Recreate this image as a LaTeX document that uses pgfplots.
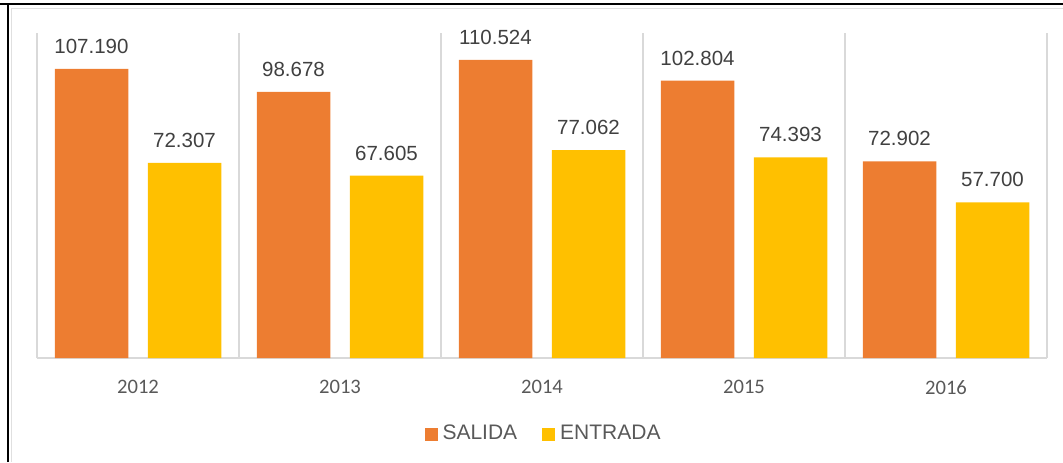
\documentclass[border=0pt]{standalone}
\usepackage{pgfplots}
\pgfplotsset{compat=1.18}
\usepackage{fontspec}
\setmainfont{Liberation Sans}
\newfontfamily\carlito{Carlito}
\definecolor{salida}{HTML}{ED7D31}
\definecolor{entrada}{HTML}{FFC000}
\definecolor{gridc}{HTML}{D9D9D9}
\definecolor{lbl}{HTML}{404040}
\definecolor{tck}{HTML}{595959}
\begin{document}
\begin{tikzpicture}
\path[use as bounding box] (0,0) rectangle (531.5pt,231pt);
\draw[line width=1pt,black] (0,229.25pt) -- (531.5pt,229.25pt);
\draw[line width=1pt,black] (3.75pt,0) -- (3.75pt,229.75pt);
\draw[line width=0.5pt,black!12] (5.6pt,0) -- (5.6pt,227pt) -- (531.5pt,227pt);
\begin{axis}[
  at={(18.5pt,52pt)}, anchor=south west,
  scale only axis, width=505pt, height=162.5pt,
  ybar=9.75pt, bar width=36.75pt,
  xmin=-0.5, xmax=4.5, ymin=0, ymax=120.5,
  xtick={0,1,2,3,4},
  xticklabels={2012,2013,2014,2015,2016},
  minor xtick={-0.5,0.5,1.5,2.5,3.5,4.5},
  xminorgrids, minor grid style={draw=gridc, line width=0.75pt},
  major tick length=0pt, minor tick length=0pt,
  axis x line*=bottom, hide y axis,
  x axis line style={draw=gridc, line width=0.75pt, -},
  xticklabel style={font=\carlito\fontsize{10.3}{12}\selectfont, text=tck, inner sep=0pt, yshift=-11pt},
  nodes near coords={\pgfmathprintnumber[fixed,fixed zerofill,precision=3,assume math mode=true]{\pgfplotspointmeta}},
  every node near coord/.append style={font=\fontsize{10.25}{12}\selectfont, text=lbl, inner sep=0pt, anchor=south, yshift=7.5pt},
  legend style={draw=none, fill=none, at={(0.503,-0.234)}, anchor=center, legend columns=2,
    font=\fontsize{10.5}{12}\selectfont, text=tck,
    /tikz/every even column/.append style={column sep=10pt},
    nodes={inner xsep=2.5pt}},
  legend cell align=left,
  clip=false,
]
\addplot[fill=salida, draw=none, legend image code/.code={\fill[salida] (0pt,-3.25pt) rectangle (6.5pt,3.25pt);}] coordinates {(0,107.190) (1,98.678) (2,110.524) (3,102.804) (4,72.902)};
\addlegendentry{SALIDA}
\addplot[fill=entrada, draw=none, legend image code/.code={\fill[entrada] (0pt,-3.25pt) rectangle (6.5pt,3.25pt);}] coordinates {(0,72.307) (1,67.605) (2,77.062) (3,74.393) (4,57.700)};
\addlegendentry{ENTRADA}
\end{axis}
\end{tikzpicture}
\end{document}
